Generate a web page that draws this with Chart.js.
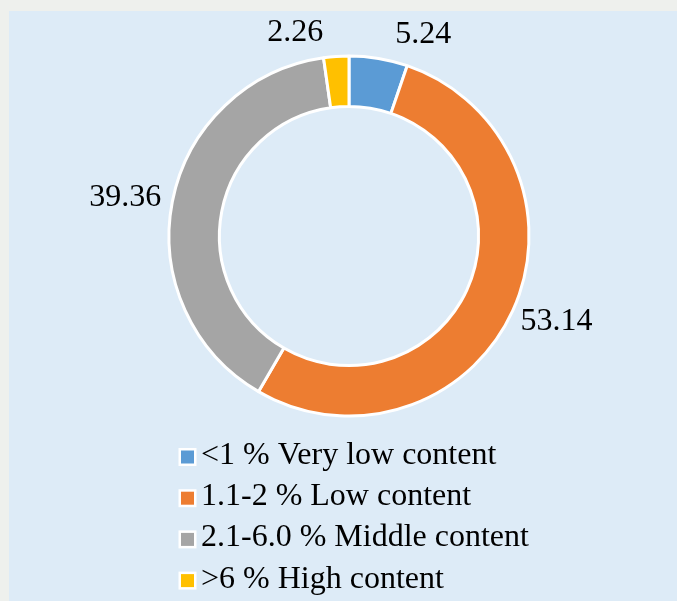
<!DOCTYPE html>
<html>
<head>
<meta charset="utf-8">
<script src="https://cdn.jsdelivr.net/npm/chart.js@4.4.1/dist/chart.umd.min.js"></script>
<style>
  html, body { margin: 0; padding: 0; background: #EEF0ED; }
  #wrap { position: relative; width: 677px; height: 601px; overflow: hidden; }
  #panel { position: absolute; left: 9px; top: 11px; right: 0; bottom: 0; background: #DDEBF7; }
  #c { position: absolute; left: 0; top: 0; }
</style>
</head>
<body>
<div id="wrap">
  <div id="panel"></div>
  <canvas id="c" width="677" height="601"></canvas>
</div>
<script>
// ---- data ----
const categories = ['<1 % Very low content', '1.1-2 % Low content', '2.1-6.0 % Middle content', '>6 % High content'];
const shares = [5.24, 53.14, 39.36, 2.26];
const sliceColors = ['#5B9BD5', '#ED7D31', '#A5A5A5', '#FFC000'];

const FONT_FAMILY = '"Liberation Serif", "Times New Roman", Times, serif';
const FONT_SIZE = 32;

// value labels outside the ring, with simple collision spreading
const valueLabelPlugin = {
  id: 'valueLabels',
  afterDatasetsDraw(chart) {
    const ctx = chart.ctx;
    const meta = chart.getDatasetMeta(0);
    ctx.save();
    ctx.font = FONT_SIZE + 'px ' + FONT_FAMILY;
    const h = 26, gap = 12, minGap = 72;
    const items = meta.data.map((arc, i) => {
      const p = arc.getProps(['x', 'y', 'startAngle', 'endAngle', 'outerRadius'], true);
      const mid = (p.startAngle + p.endAngle) / 2;
      const r = p.outerRadius + gap;
      const px = p.x + r * Math.cos(mid);
      const py = p.y + r * Math.sin(mid);
      const text = shares[i].toFixed(2);
      const w = ctx.measureText(text).width;
      return { text, w, cx: px + Math.cos(mid) * w / 2, cy: py + Math.sin(mid) * h / 2 };
    });
    // spread labels that sit on the same line and are too close
    for (let a = 0; a < items.length; a++) {
      for (let b = a + 1; b < items.length; b++) {
        const A = items[a], B = items[b];
        if (Math.abs(A.cy - B.cy) < h) {
          const left = A.cx <= B.cx ? A : B, right = left === A ? B : A;
          const need = left.w / 2 + right.w / 2 + minGap;
          const have = right.cx - left.cx;
          if (have < need) {
            const push = (need - have) / 2;
            left.cx -= push; right.cx += push;
          }
        }
      }
    }
    ctx.fillStyle = '#000';
    ctx.textAlign = 'center';
    ctx.textBaseline = 'middle';
    items.forEach(it => ctx.fillText(it.text, it.cx, it.cy + 1));
    ctx.restore();
  }
};

// vertical legend below the ring
const listLegendPlugin = {
  id: 'listLegend',
  afterDraw(chart) {
    const ctx = chart.ctx;
    const ds = chart.data.datasets[0];
    ctx.save();
    ctx.font = FONT_SIZE + 'px ' + FONT_FAMILY;
    ctx.textAlign = 'left';
    ctx.textBaseline = 'middle';
    const boxX = 181, box = 13, border = 2.5, textX = 201, firstY = 455.5, step = 41.2;
    chart.data.labels.forEach((lab, i) => {
      const cy = firstY + i * step;
      const by = cy + 1.5 - box / 2;
      ctx.fillStyle = '#FFFFFF';
      ctx.fillRect(boxX - border, by - border, box + 2 * border, box + 2 * border);
      ctx.fillStyle = ds.backgroundColor[i];
      ctx.fillRect(boxX, by, box, box);
      ctx.fillStyle = '#000';
      ctx.fillText(lab, textX, cy);
    });
    ctx.restore();
  }
};

new Chart(document.getElementById('c'), {
  type: 'doughnut',
  data: {
    labels: categories,
    datasets: [{
      data: shares,
      backgroundColor: sliceColors,
      borderColor: '#FFFFFF',
      borderWidth: 3,
      hoverOffset: 0
    }]
  },
  options: {
    responsive: false,
    animation: false,
    radius: 180,
    cutout: '72%',
    rotation: 0,
    layout: { padding: { left: 21, right: 0, top: 0, bottom: 129 } },
    plugins: {
      legend: { display: false },
      tooltip: { enabled: false },
      title: { display: false }
    }
  },
  plugins: [valueLabelPlugin, listLegendPlugin]
});
</script>
</body>
</html>
